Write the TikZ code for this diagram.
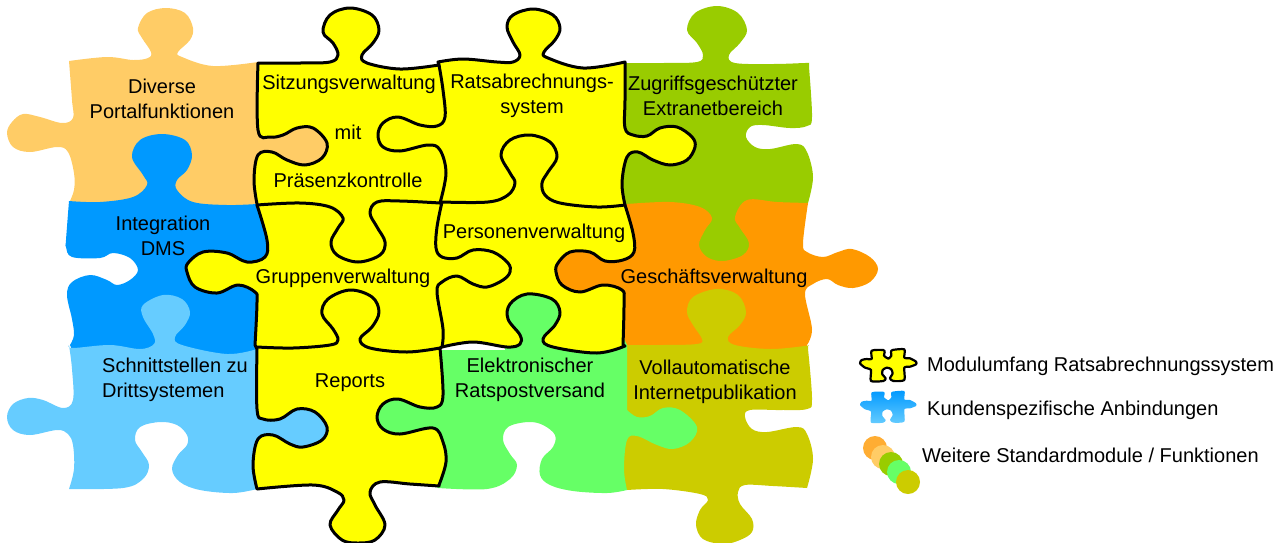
\documentclass[tikz,border=0pt]{standalone}
\usepackage{fontspec}
\setmainfont{Liberation Sans}
\definecolor{portalcol}{HTML}{FFCC66}
\definecolor{dmscol}{HTML}{0099FF}
\definecolor{schnittcol}{HTML}{66CCFF}
\definecolor{modulcol}{HTML}{FFFF00}
\definecolor{versandcol}{HTML}{66FF66}
\definecolor{extranetcol}{HTML}{99CC00}
\definecolor{geschaeftcol}{HTML}{FF9900}
\definecolor{internetcol}{HTML}{CCCC00}
\tikzset{
  puzzleedge/.style={smooth,tension=0.6},
  moduleline/.style={line width=3pt,line join=round,line cap=round},
  piecelabel/.style={align=center,inner sep=0pt,font=\fontsize{20}{24.5}\selectfont},
  legendlabel/.style={anchor=west,inner sep=0pt,font=\fontsize{20}{24}\selectfont},
  legenddot/.style={inner sep=0pt,minimum size=24pt,circle}
}
\begin{document}
\begin{tikzpicture}[x=1pt,y=-1pt]
\useasboundingbox (0,0) rectangle (1284,542);
% pieces round the yellow block
\fill[portalcol] plot[puzzleedge] coordinates {(69,61) (107,57) (133,60) (148,58) (151,52) (142,38) (138,28) (147,13) (166,8) (185,13) (193,28) (190,40) (178,52) (182,57) (213,66) (258,62)}
  -- (262,70) -- (332,125) -- (332,170) -- (262,210) -- (75,210)
  -- plot[puzzleedge] coordinates {(69,203) (74,190) (74,173) (68,152) (57,147) (30,152) (13,147) (7,133) (12,122) (23,114) (40,117) (62,123) (73,118) (72,100) (69,61)} -- cycle;
\fill[dmscol] plot[puzzleedge] coordinates {(69,201) (100,202) (133,197) (147,185) (143,175) (132,157) (140,140) (162,134) (185,140) (192,155) (187,170) (177,180) (177,190) (193,202) (227,205) (257,204)}
  -- (275,206) -- (275,356) -- (75,356)
  -- plot[puzzleedge] coordinates {(70,345) (74,335) (72,319) (67,295) (72,282) (90,275) (107,280) (117,285) (130,280) (138,270) (130,258) (113,253) (100,258) (72,257) (66,247) (66,240) (69,201)} -- cycle;
\fill[schnittcol] plot[puzzleedge] coordinates {(69,345) (73,348) (110,345) (140,349) (154,344) (153,334) (143,317) (143,305) (163,295) (182,299) (190,312) (185,325) (175,337) (182,345) (227,354) (257,349)}
  -- (262,352) -- (332,405) -- (332,450) -- (262,484)
  -- plot[puzzleedge] coordinates {(257,489) (233,493) (200,490) (180,482) (172,469) (178,455) (187,445) (187,435) (177,425) (160,422) (140,427) (135,440) (142,452) (149,465) (143,479) (123,488) (69,489)}
  -- plot[puzzleedge] coordinates {(69,489) (74,469) (73,445) (68,434) (57,430) (30,435) (13,430) (7,417) (13,404) (28,398) (43,400) (63,408) (73,400) (72,369) (69,345)} -- cycle;
\fill[extranetcol] plot[puzzleedge] coordinates {(620,63) (663,63) (697,62) (703,55) (697,43) (687,30) (695,13) (717,6) (738,13) (747,30) (740,43) (729,55) (735,63) (773,64) (805,63) (809,63)}
  -- plot[puzzleedge] coordinates {(809,67) (812,117) (807,126) (790,128) (763,125) (750,127) (746,137) (755,147) (770,149) (797,144) (807,152) (813,177) (808,203)}
  -- (806,208) -- (755,208) -- (755,265) -- (690,265) -- (690,208) -- (615,208) -- cycle;
\fill[geschaeftcol] plot[puzzleedge] coordinates {(627,204) (670,202) (700,207) (712,218) (705,230) (699,245) (707,257) (723,261) (743,255) (749,243) (740,228) (735,217) (747,200) (777,202) (808,203)}
  -- plot[puzzleedge] coordinates {(808,203) (803,243) (807,252) (823,257) (838,252) (852,249) (870,257) (878,269) (870,282) (853,288) (838,285) (827,279) (813,284) (805,294) (812,329) (807,345)}
  -- (806,350) -- (620,350) -- (550,295) -- (550,245) -- (620,204) -- cycle;
\fill[internetcol] plot[puzzleedge] coordinates {(620,345) (663,345) (697,344) (702,339) (693,325) (687,312) (693,297) (717,289) (738,295) (746,312) (740,325) (728,337) (735,345) (770,349) (805,346) (808,345)}
  -- plot[puzzleedge] coordinates {(808,349) (812,399) (807,409) (780,410) (750,410) (745,417) (752,429) (767,432) (797,427) (807,434) (813,459) (807,488)}
  -- plot[puzzleedge] coordinates {(807,488) (773,486) (745,485) (738,492) (740,504) (752,519) (752,532) (740,540) (723,544) (703,539) (696,525) (700,510) (708,500) (700,494) (663,489) (627,490)}
  -- (615,480) -- cycle;
\fill[versandcol] (438,488) -- (370,440) -- (370,395) -- (430,350) -- (505,350) -- (505,290) -- (565,290) -- (620,330) -- (627,345)
  -- plot[puzzleedge] coordinates {(627,410) (637,417) (650,416) (663,408) (680,410) (697,427) (690,442) (673,449) (657,445) (637,436) (627,440) (624,469) (627,490)}
  -- plot[puzzleedge] coordinates {(627,490) (607,493) (573,491) (550,485) (540,475) (542,459) (553,447) (555,435) (543,425) (528,422) (508,427) (503,440) (510,454) (517,465) (510,479) (487,489) (438,488)} -- cycle;
% yellow block, outer edge
\filldraw[moduleline,fill=modulcol] plot[puzzleedge] coordinates {(258,63) (300,63) (330,62) (338,55) (333,43) (323,32) (330,15) (350,8) (372,15) (379,30) (373,43) (362,55) (367,63) (400,69) (439,65)}
  -- plot[puzzleedge] coordinates {(438,62) (463,59) (497,62) (513,62) (520,55) (513,42) (507,27) (513,15) (533,9) (553,15) (560,28) (555,40) (544,52) (548,58) (583,68) (625,62)}
  -- plot[puzzleedge] coordinates {(625,62) (625,100) (625,128) (633,135) (647,136) (660,128) (677,127) (692,137) (695,147) (687,160) (670,165) (653,160) (638,152) (627,157) (622,183) (625,205)}
  -- plot[puzzleedge] coordinates {(625,205) (633,233) (634,252) (623,260) (605,261) (590,252) (570,252) (558,263) (556,272) (562,285) (580,292) (603,285) (622,290) (624,302) (623,345)}
  -- plot[puzzleedge] coordinates {(625,346) (597,353) (553,347) (543,339) (555,325) (560,312) (552,299) (527,294) (510,304) (508,319) (520,335) (520,344) (507,347) (473,342) (442,347)}
  -- plot[puzzleedge] coordinates {(440,348) (443,395) (437,407) (420,407) (398,399) (383,404) (377,417) (383,429) (400,434) (433,428) (443,442) (446,462) (439,485)}
  -- plot[puzzleedge] coordinates {(439,486) (410,484) (380,482) (370,492) (375,505) (385,525) (375,540) (358,543) (342,540) (330,525) (338,510) (344,500) (337,492) (313,485) (257,489)}
  -- plot[puzzleedge] coordinates {(257,489) (253,465) (258,439) (273,435) (290,444) (303,447) (322,440) (327,427) (315,412) (297,409) (280,419) (263,419) (257,409) (257,349)}
  -- plot[puzzleedge] coordinates {(255,345) (257,302) (255,292) (238,285) (217,293) (195,287) (187,272) (188,263) (203,252) (227,253) (247,262) (265,257) (267,240) (257,205)}
  -- plot[puzzleedge] coordinates {(257,204) (254,180) (258,155) (272,152) (287,160) (305,165) (322,158) (327,143) (313,128) (297,128) (283,135) (270,137) (258,130) (258,63)} -- cycle;
% yellow block, inner edges
\draw[moduleline] plot[puzzleedge] coordinates {(439,65) (443,90) (445,117) (437,126) (420,125) (398,117) (383,123) (378,135) (383,147) (400,151) (428,145) (440,150) (446,173) (440,203)};
\draw[moduleline] plot[puzzleedge] coordinates {(257,205) (300,203) (330,207) (343,218) (338,228) (331,242) (337,255) (358,262) (380,255) (385,242) (377,227) (370,213) (377,202) (400,201) (440,203)};
\draw[moduleline] plot[puzzleedge] coordinates {(625,205) (597,207) (560,203) (545,195) (542,183) (548,172) (557,157) (550,142) (530,135) (510,140) (501,155) (510,173) (515,183) (508,195) (488,202) (442,202)};
\draw[moduleline] plot[puzzleedge] coordinates {(442,202) (437,227) (436,248) (442,257) (457,258) (473,250) (493,252) (508,263) (510,272) (503,280) (487,287) (473,284) (457,276) (442,282) (437,292) (443,329) (442,347)};
\draw[moduleline] plot[puzzleedge] coordinates {(257,347) (293,348) (330,345) (338,340) (333,329) (322,314) (328,299) (350,290) (372,297) (379,312) (372,327) (360,339) (370,348) (407,352) (440,348)};
% legend icons
\begin{scope}[shift={(855,345)},scale=0.3333]
\filldraw[line width=2.2pt,line join=round,fill=modulcol] plot[smooth cycle,tension=0.4] coordinates {(50,17) (85,15) (89,22) (87,32) (100,41) (109,32) (108,22) (112,15) (148,13) (148,38) (165,40) (183,50) (183,58) (165,65) (148,68) (148,105) (115,108) (105,100) (113,85) (108,72) (95,68) (83,75) (82,88) (92,100) (85,108) (48,108) (48,75) (30,68) (15,55) (20,45) (35,42) (50,42)};
\shade[top color=dmscol,bottom color=schnittcol] plot[smooth cycle,tension=0.4] coordinates {(50,142) (85,140) (89,147) (87,157) (100,166) (109,157) (108,147) (112,140) (148,138) (148,163) (165,165) (183,175) (183,183) (165,190) (148,193) (148,230) (115,233) (105,225) (113,210) (108,197) (95,193) (83,200) (82,213) (92,225) (85,233) (48,233) (48,200) (30,193) (15,180) (20,170) (35,167) (50,167)};
\end{scope}
\node[legenddot,fill=geschaeftcol!80!white] (dotA) at (875,448) {};
\node[legenddot,fill=portalcol] (dotB) at (883,457) {};
\node[legenddot,fill=extranetcol] (dotC) at (891,464) {};
\node[legenddot,fill=versandcol] (dotD) at (899,472) {};
\node[legenddot,fill=internetcol] (dotE) at (908,482) {};
% labels
\node[piecelabel] (diverse) at (162,99) {Diverse\\Portalfunktionen};
\node[piecelabel] (sitzung) at (349,84) {Sitzungsverwaltung};
\node[piecelabel] (mit) at (348,132) {mit};
\node[piecelabel] (praesenz) at (348,180) {Präsenzkontrolle};
\node[piecelabel] (rats) at (532,96) {Ratsabrechnungs-\\system};
\node[piecelabel] (zugriff) at (713,96) {Zugriffsgeschützter\\Extranetbereich};
\node[piecelabel] (dms) at (163,236) {Integration\\DMS};
\node[piecelabel] (gruppen) at (343,278) {Gruppenverwaltung};
\node[piecelabel] (personen) at (534,233) {Personenverwaltung};
\node[piecelabel] (geschaeft) at (714,278) {Geschäftsverwaltung};
\node[piecelabel,align=left] (schnitt) at (175,380) {Schnittstellen zu\\Drittsystemen};
\node[piecelabel] (reports) at (350,383) {Reports};
\node[piecelabel] (versand) at (530,380) {Elektronischer\\Ratspostversand};
\node[piecelabel] (voll) at (715,382) {Vollautomatische\\Internetpublikation};
\node[legendlabel] (legmodul) at (927,366) {Modulumfang Ratsabrechnungssystem};
\node[legendlabel] (legkunde) at (927,410) {Kundenspezifische Anbindungen};
\node[legendlabel] (legweitere) at (922,455) {Weitere Standardmodule / Funktionen};
\end{tikzpicture}
\end{document}
